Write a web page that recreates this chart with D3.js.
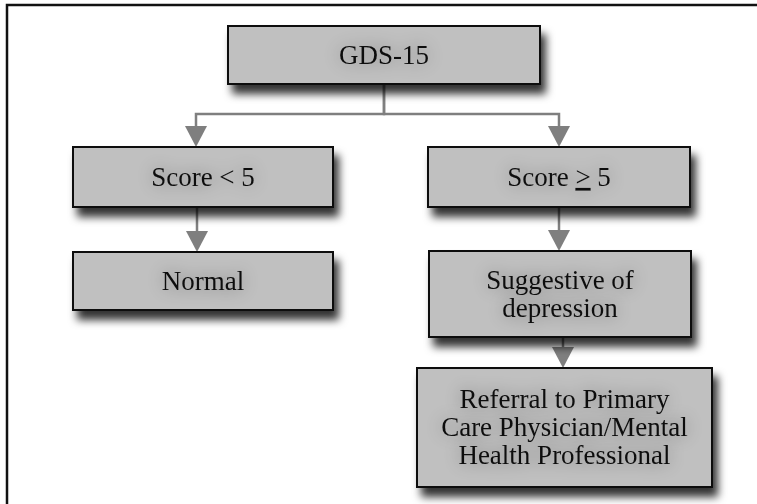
<!DOCTYPE html>
<html>
<head>
<meta charset="utf-8">
<script src="https://cdn.jsdelivr.net/npm/d3@7"></script>
<style>
  html, body { margin: 0; padding: 0; background: #fff; }
  svg { display: block; }
</style>
</head>
<body>
<div id="chart"></div>
<script>
// Flowchart content
const nodeIds = ["gds", "low", "high", "normal", "suggest", "referral"];
// each line is a list of [text, underlined] pieces
const nodeLabels = [
    [[["GDS-15", false]]],
    [[["Score < 5", false]]],
    [[["Score ", false], [">", true], [" 5", false]]],
    [[["Normal", false]]],
    [[["Suggestive of", false]], [["depression", false]]],
    [[["Referral to Primary", false]], [["Care Physician/Mental", false]], [["Health Professional", false]]]
];
const edges = [
    ["gds", "low"], ["gds", "high"],
    ["low", "normal"], ["high", "suggest"],
    ["suggest", "referral"]
];

// Layout (pixels)
const layout = {
    gds:      { x0: 228, x1: 540, y0: 26,  y1: 84 },
    low:      { x0: 73,  x1: 333, y0: 147, y1: 207 },
    high:     { x0: 428, x1: 690, y0: 147, y1: 207 },
    normal:   { x0: 73,  x1: 333, y0: 252, y1: 310 },
    suggest:  { x0: 429, x1: 691, y0: 251, y1: 337 },
    referral: { x0: 417, x1: 712, y0: 368, y1: 487 }
};
const arrowX = { low: 196, high: 559, normal: 197, suggest: 559, referral: 563 };
const branchY = 114;

const width = 757, height = 504;
const fontSize = 27, lineH = 28;

const svg = d3.select('#chart').append('svg')
    .attr('width', width).attr('height', height);

const defs = svg.append('defs');
const shadow = defs.append('filter').attr('id', 'shadow')
    .attr('x', '-10%').attr('y', '-10%').attr('width', '130%').attr('height', '160%');
shadow.append('feDropShadow')
    .attr('dx', 5).attr('dy', 9).attr('stdDeviation', 4)
    .attr('flood-color', '#000').attr('flood-opacity', 0.8);

const halo = defs.append('filter').attr('id', 'halo')
    .attr('x', '-30%').attr('y', '-60%').attr('width', '160%').attr('height', '220%');
halo.append('feGaussianBlur').attr('in', 'SourceAlpha').attr('stdDeviation', 9).attr('result', 'b');
halo.append('feComponentTransfer').attr('in', 'b').attr('result', 'c')
    .append('feFuncA').attr('type', 'linear').attr('slope', 0.45);
const hm = halo.append('feMerge');
hm.append('feMergeNode').attr('in', 'c');
hm.append('feMergeNode').attr('in', 'SourceGraphic');

// Outer frame
svg.append('rect')
    .attr('x', 7).attr('y', 5)
    .attr('width', width).attr('height', height)
    .attr('fill', 'none').attr('stroke', '#111').attr('stroke-width', 2.5);

const grey = '#7f7f7f';
const links = svg.append('g');

function arrowHead(x, yTip) {
    const w = 11, h = 21;
    links.append('path')
        .attr('d', d3.line()([[x - w, yTip - h], [x + w, yTip - h], [x, yTip]]) + 'Z')
        .attr('fill', grey);
}

edges.forEach(([s, t]) => {
    const a = layout[s], b = layout[t];
    const tx = arrowX[t];
    const pts = s === 'gds'
        ? [[(a.x0 + a.x1) / 2, a.y1], [(a.x0 + a.x1) / 2, branchY], [tx, branchY], [tx, b.y0 - 20]]
        : [[tx, a.y1], [tx, b.y0 - 20]];
    links.append('path')
        .attr('d', d3.line()(pts))
        .attr('fill', 'none').attr('stroke', grey).attr('stroke-width', 2.5);
    arrowHead(tx, b.y0);
});

// Boxes
const nodes = svg.append('g').selectAll('g')
    .data(nodeIds.map((id, i) => ({ id, lines: nodeLabels[i], ...layout[id] })))
    .enter().append('g');

nodes.append('rect')
    .attr('x', d => d.x0).attr('y', d => d.y0)
    .attr('width', d => d.x1 - d.x0).attr('height', d => d.y1 - d.y0)
    .attr('fill', '#c0c0c0').attr('stroke', '#111').attr('stroke-width', 2)
    .attr('filter', 'url(#shadow)');

nodes.each(function(d) {
    const cx = (d.x0 + d.x1) / 2, cy = (d.y0 + d.y1) / 2;
    const n = d.lines.length;
    d.lines.forEach((pieces, i) => {
        const t = d3.select(this).append('text')
            .attr('x', cx)
            .attr('y', cy + 0.33 * fontSize + (i - (n - 1) / 2) * lineH)
            .attr('text-anchor', 'middle')
            .attr('font-family', '"Liberation Serif", "Times New Roman", serif')
            .attr('font-size', fontSize)
            .attr('fill', '#111')
            .attr('filter', 'url(#halo)');
        pieces.forEach(([txt, ul]) => {
            t.append('tspan')
                .attr('text-decoration', ul ? 'underline' : null)
                .style('white-space', 'pre')
                .text(txt);
        });
    });
});
</script>
</body>
</html>
